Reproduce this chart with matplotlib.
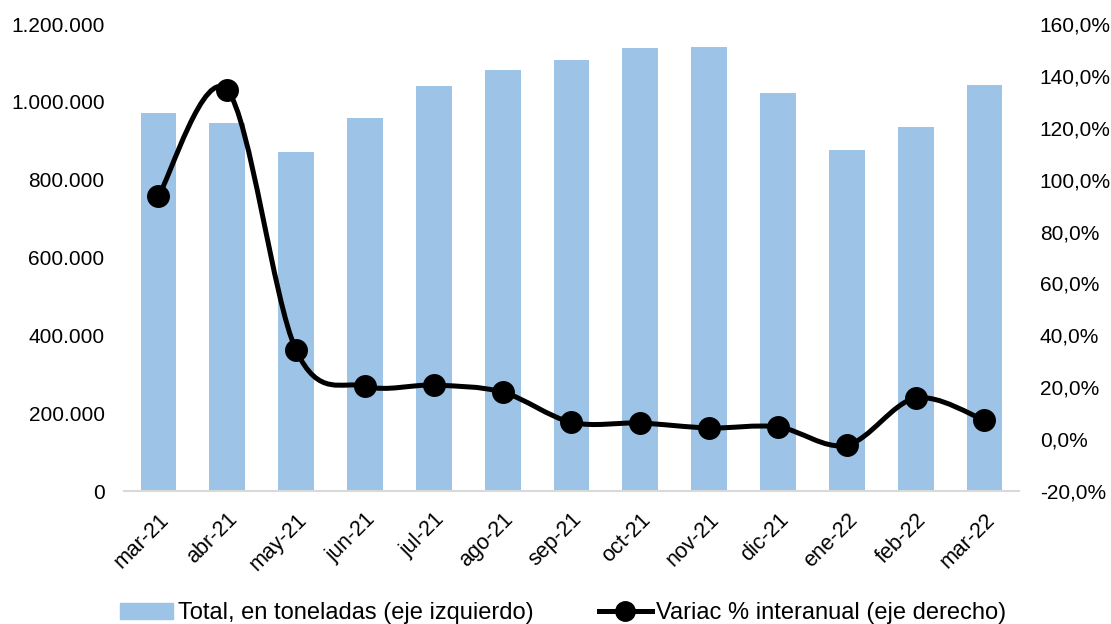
import numpy as np
import matplotlib.pyplot as plt
from matplotlib.path import Path
from matplotlib.patches import PathPatch
from matplotlib.lines import Line2D
from matplotlib.ticker import FuncFormatter

plt.rcParams['font.family'] = ['Liberation Sans', 'DejaVu Sans']

# -- datos --
meses = ['mar-21', 'abr-21', 'may-21', 'jun-21', 'jul-21', 'ago-21', 'sep-21',
         'oct-21', 'nov-21', 'dic-21', 'ene-22', 'feb-22', 'mar-22']
toneladas = [971000, 945600, 871000, 958000, 1040700, 1081800, 1107500,
             1138300, 1140900, 1022700, 876200, 935300, 1043200]
variacion = [93.7, 134.5, 34.3, 20.4, 20.8, 18.1, 6.5, 6.2, 4.3, 4.7, -2.3, 15.8, 7.3]

azul = '#9DC3E6'


def miles(v, pos):
    return f"{int(v):,}".replace(',', '.')


def porcentaje(v, pos):
    return f"{v:.1f}%".replace('.', ',')


# curva suavizada tipo Excel (Bezier a partir de Catmull-Rom)
def camino_suave(xs, ys):
    p = np.column_stack([xs, ys]).astype(float)
    ext = np.vstack([p[0], p, p[-1]])
    verts = [p[0]]
    codes = [Path.MOVETO]
    for i in range(len(p) - 1):
        p0, p1, p2, p3 = ext[i], ext[i + 1], ext[i + 2], ext[i + 3]
        c1 = p1 + (p2 - p0) / 6.0
        c2 = p2 - (p3 - p1) / 6.0
        verts += [c1, c2, p2]
        codes += [Path.CURVE4] * 3
    return Path(verts, codes)


fig = plt.figure(figsize=(11.11, 6.24), dpi=100)
ax = fig.add_axes([0.1116, 0.2131, 0.8055, 0.7484])
ax2 = ax.twinx()

x = np.arange(len(meses))
ax.bar(x, toneladas, width=0.52, color=azul, zorder=2)
ax.set_xlim(-0.5, len(meses) - 0.5)
ax.set_ylim(0, 1200000)
ax.set_yticks(np.arange(0, 1200001, 200000))
ax.yaxis.set_major_formatter(FuncFormatter(miles))
ax.set_xticks(x)
ax.set_xticklabels(meses, rotation=45, ha='right', rotation_mode='anchor')

ax2.set_ylim(-20, 160)
ax2.set_yticks(np.arange(-20, 161, 20))
ax2.yaxis.set_major_formatter(FuncFormatter(porcentaje))

ax2.add_patch(PathPatch(camino_suave(x, variacion), facecolor='none',
                        edgecolor='black', lw=3.6, zorder=3))
ax2.plot(x, variacion, 'o', color='black', markersize=15.5, zorder=4)

for a in (ax, ax2):
    for s in a.spines.values():
        s.set_visible(False)
    a.tick_params(length=0, labelsize=15, colors='black')
ax.spines['bottom'].set_visible(True)
ax.spines['bottom'].set_color('#D9D9D9')
ax.spines['bottom'].set_linewidth(1.5)
ax.tick_params(axis='y', pad=14)
ax.tick_params(axis='x', pad=13, labelsize=15.5)
ax2.tick_params(axis='y', pad=15)

handles = [plt.Rectangle((0, 0), 1, 1, color=azul),
           Line2D([], [], color='black', lw=3.6, marker='o', markersize=14)]
labels = ['Total, en toneladas (eje izquierdo)', 'Variac % interanual (eje derecho)']
fig.legend(handles, labels, loc='center left', bbox_to_anchor=(0.089, 0.017),
           ncol=2, frameon=False, fontsize=17, handlelength=2.25,
           handletextpad=0.2, columnspacing=2.75)

fig.savefig('out.png', dpi=100)
